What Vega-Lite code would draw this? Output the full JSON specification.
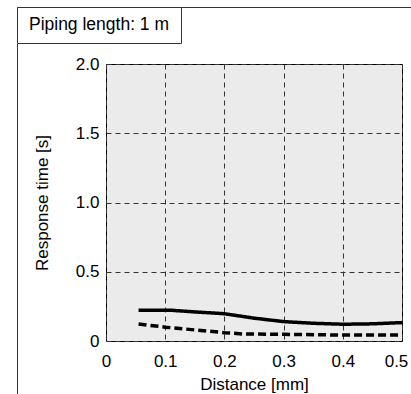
{
  "$schema": "https://vega.github.io/schema/vega-lite/v6.json",
  "padding": {"left": 16, "top": 6, "right": 0, "bottom": 0},
  "background": "white",
  "config": {
    "font": "Liberation Sans",
    "view": {"stroke": null},
    "concat": {"spacing": 0},
    "axis": {
      "labelFont": "Liberation Sans",
      "titleFont": "Liberation Sans",
      "labelColor": "black",
      "titleColor": "black",
      "titleFontWeight": "normal",
      "labelFontSize": 17,
      "titleFontSize": 17
    }
  },
  "vconcat": [
    {
      "width": 164,
      "height": 36,
      "view": {"stroke": "#333", "strokeWidth": 1},
      "data": {"values": [{"t": "Piping length: 1 m", "v": 0.5}]},
      "layer": [
        {
          "mark": {"type": "point", "opacity": 0, "size": 1},
          "encoding": {
            "x": {
              "field": "v",
              "type": "quantitative",
              "scale": {"domain": [0, 1], "range": [0, 404]},
              "axis": {"orient": "top", "domain": true, "domainColor": "#333", "domainWidth": 1, "labels": false, "ticks": false, "grid": false, "title": null}
            }
          }
        },
        {
          "mark": {"type": "text", "fontSize": 17.5, "color": "black", "font": "Liberation Sans", "baseline": "middle"},
          "encoding": {"text": {"field": "t"}}
        }
      ]
    },
    {
      "hconcat": [
        {
          "width": 1,
          "height": 360,
          "view": {"fill": "#333", "stroke": null},
          "data": {"values": [{}]},
          "mark": {"type": "rect", "opacity": 0},
          "encoding": {}
        },
        {
          "vconcat": [
            {
              "width": 1,
              "height": 10,
              "data": {"values": [{}]},
              "mark": {"type": "rect", "opacity": 0},
              "encoding": {}
            },
            {
              "width": 296,
              "height": 277,
              "view": {"fill": "#ebebeb", "stroke": "black", "strokeWidth": 1},
              "data": {
                "values": [
                  {"series": "solid", "d": 0.055, "t": 0.222},
                  {"series": "solid", "d": 0.11, "t": 0.222},
                  {"series": "solid", "d": 0.15, "t": 0.21},
                  {"series": "solid", "d": 0.2, "t": 0.197},
                  {"series": "solid", "d": 0.25, "t": 0.165},
                  {"series": "solid", "d": 0.3, "t": 0.14},
                  {"series": "solid", "d": 0.35, "t": 0.128},
                  {"series": "solid", "d": 0.4, "t": 0.121},
                  {"series": "solid", "d": 0.45, "t": 0.124},
                  {"series": "solid", "d": 0.5, "t": 0.133},
                  {"series": "dashed", "d": 0.055, "t": 0.123},
                  {"series": "dashed", "d": 0.1, "t": 0.1},
                  {"series": "dashed", "d": 0.15, "t": 0.08},
                  {"series": "dashed", "d": 0.2, "t": 0.06},
                  {"series": "dashed", "d": 0.23, "t": 0.051},
                  {"series": "dashed", "d": 0.3, "t": 0.048},
                  {"series": "dashed", "d": 0.4, "t": 0.043},
                  {"series": "dashed", "d": 0.5, "t": 0.043}
                ]
              },
              "mark": {"type": "line", "color": "black", "strokeWidth": 3.5, "clip": true},
              "encoding": {
                "x": {
                  "field": "d",
                  "type": "quantitative",
                  "title": "Distance [mm]",
                  "scale": {"domain": [0, 0.5], "nice": false, "zero": false},
                  "axis": {
                    "values": [0, 0.1, 0.2, 0.3, 0.4, 0.5],
                    "labelExpr": "datum.value == 0 ? '0' : format(datum.value, '.1f')",
                    "labelOffset": {"expr": "datum.value == 0.5 ? -6 : 0"},
                    "domain": false,
                    "ticks": false,
                    "grid": true,
                    "gridColor": "#333",
                    "gridDash": [5, 4],
                    "gridWidth": 1,
                    "gridOpacity": 1,
                    "labelPadding": 12,
                    "titlePadding": 7,
                    "labelFlush": false,
                    "labelOverlap": false
                  }
                },
                "y": {
                  "field": "t",
                  "type": "quantitative",
                  "title": "Response time [s]",
                  "scale": {"domain": [0, 2], "nice": false},
                  "axis": {
                    "values": [0, 0.5, 1, 1.5, 2],
                    "labelExpr": "datum.value == 0 ? '0' : format(datum.value, '.1f')",
                    "domain": false,
                    "ticks": false,
                    "grid": true,
                    "gridColor": "#333",
                    "gridDash": [5, 4],
                    "gridWidth": 1,
                    "gridOpacity": 1,
                    "labelPadding": 7,
                    "titlePadding": 24,
                    "labelFlush": false,
                    "labelOverlap": false
                  }
                },
                "strokeDash": {
                  "field": "series",
                  "type": "nominal",
                  "scale": {"domain": ["solid", "dashed"], "range": [[1, 0], [8, 4]]},
                  "legend": null
                }
              }
            }
          ],
          "spacing": 0
        }
      ],
      "spacing": 14
    }
  ]
}
